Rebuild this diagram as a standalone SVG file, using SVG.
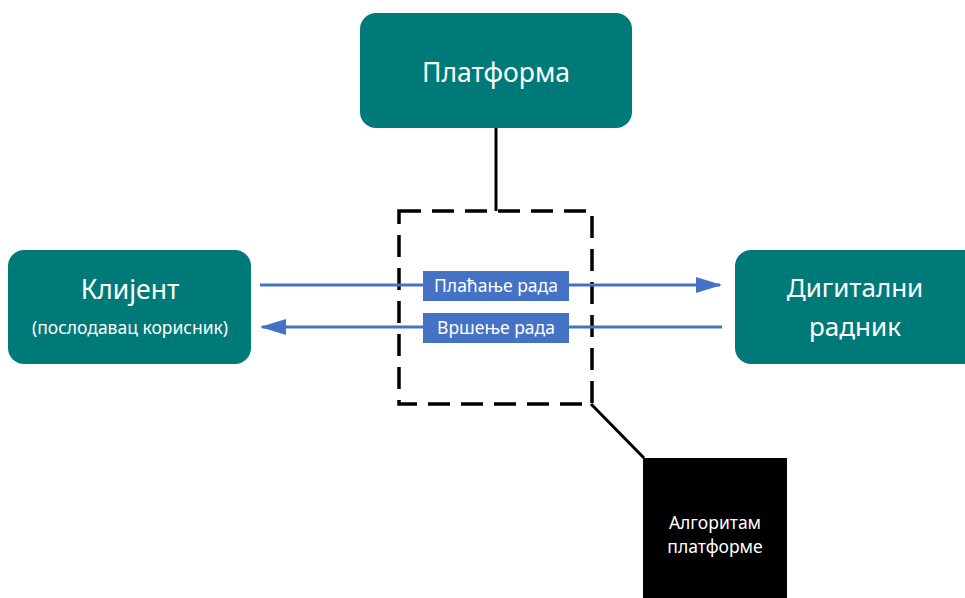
<svg xmlns="http://www.w3.org/2000/svg" width="965" height="598" viewBox="0 0 965 598">
<style>
.node{fill:#007A78}
.t{font-family:"Noto Sans","Open Sans",sans-serif;fill:#fff;text-anchor:middle}
.blue{stroke:#4472C4;stroke-width:3;fill:none}
.lbl{fill:#4472C4}
.blk{stroke:#000;stroke-width:3;fill:none}
</style>
<defs>
<marker id="ah2" markerWidth="26" markerHeight="16" refX="24" refY="8" orient="auto" markerUnits="userSpaceOnUse" viewBox="0 0 26 16">
<path d="M0,0 L26,8 L0,16 z" fill="#4472C4"/>
</marker>
</defs>
<rect width="965" height="598" fill="#fff"/>
<g id="connectors">
<line class="blk" x1="496" y1="128" x2="496" y2="211"/>
<rect id="dashed-box" x="399" y="211" width="193" height="193" fill="none" stroke="#000" stroke-width="3.5" stroke-dasharray="22,11"/>
<line class="blk" x1="591" y1="404" x2="644" y2="458"/>
<line class="blue" x1="260" y1="285" x2="720" y2="285" marker-end="url(#ah2)"/>
<line class="blue" x1="722" y1="327" x2="262" y2="327" marker-end="url(#ah2)"/>
<g id="label-placanje">
<rect class="lbl" x="423" y="271" width="146" height="30"/>
<text class="t" x="496" y="292" font-size="17.5">Плаћање рада</text>
</g>
<g id="label-vrsenje">
<rect class="lbl" x="423" y="313" width="146" height="30"/>
<text class="t" x="496" y="334" font-size="17.5">Вршење рада</text>
</g>
</g>
<g id="platforma">
<rect class="node" x="360" y="13" width="272" height="115" rx="16"/>
<text class="t" x="496" y="82" font-size="26.5">Платформа</text>
</g>
<g id="klijent">
<rect class="node" x="8" y="250" width="243" height="114" rx="16"/>
<text class="t" x="130" y="299" font-size="26.5">Клијент</text>
<text class="t" x="130" y="334" font-size="17.5">(послодавац корисник)</text>
</g>
<g id="digitalni-radnik">
<rect class="node" x="735" y="250" width="250" height="114" rx="16"/>
<text class="t" x="855" y="297" font-size="26">Дигитални</text>
<text class="t" x="855" y="336" font-size="26">радник</text>
</g>
<g id="algoritam">
<rect x="643" y="458" width="144" height="145" fill="#000"/>
<text class="t" x="715" y="529" font-size="17.5">Алгоритам</text>
<text class="t" x="715" y="553" font-size="17.5">платформе</text>
</g>
</svg>
